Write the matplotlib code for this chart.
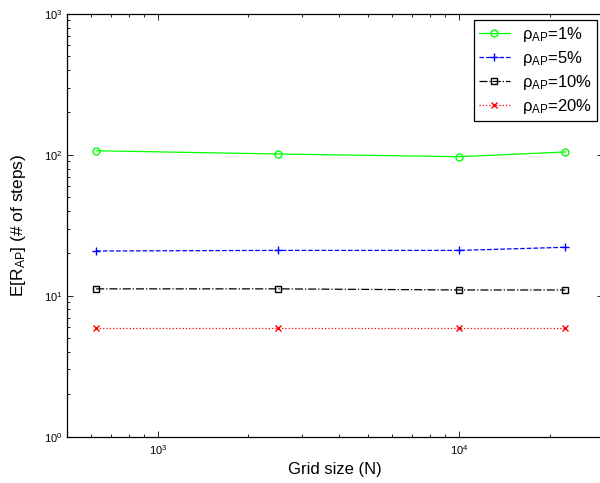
import matplotlib
matplotlib.use('Agg')
from matplotlib import pyplot as plt
from matplotlib.ticker import LogLocator, NullFormatter

plt.rcParams['font.family'] = ['Liberation Sans', 'DejaVu Sans']
plt.rcParams['mathtext.fontset'] = 'custom'
plt.rcParams['mathtext.rm'] = 'Liberation Sans'
plt.rcParams['mathtext.it'] = 'Liberation Sans:italic'

grid_size = [625, 2500, 10000, 22500]
rho_1 = [107, 101.5, 97.1, 104.9]
rho_5 = [20.8, 21.0, 21.0, 22.1]
rho_10 = [11.2, 11.2, 11.0, 11.0]
rho_20 = [5.9, 5.9, 5.9, 5.9]
labels = ['ρ$_{\\mathrm{AP}}$=1%', 'ρ$_{\\mathrm{AP}}$=5%',
          'ρ$_{\\mathrm{AP}}$=10%', 'ρ$_{\\mathrm{AP}}$=20%']

fig = plt.figure(figsize=(6, 4.83), dpi=100)
ax = fig.add_axes([67 / 600, 1 - 436.7 / 483, 536 / 600, 422.7 / 483])

ax.plot(grid_size, rho_1, '-', color=(0, 1, 0), marker='o', mfc='none',
        ms=5, lw=0.9, label=labels[0])
ax.plot(grid_size, rho_5, '--', color=(0, 0, 1), marker='+',
        ms=6, lw=0.9, label=labels[1])
ax.plot(grid_size, rho_10, '-.', color='black', marker='s', mfc='none',
        ms=5, lw=0.9, label=labels[2])
ax.plot(grid_size, rho_20, ':', color=(1, 0, 0), marker='x',
        ms=4.5, lw=0.9, label=labels[3])

ax.set_xscale('log')
ax.set_yscale('log')
ax.set_xlim(500, 30000)
ax.set_ylim(1, 1000)
ax.yaxis.set_minor_locator(LogLocator(base=10, subs=range(2, 10)))
ax.xaxis.set_minor_locator(LogLocator(base=10, subs=range(2, 10)))
ax.xaxis.set_minor_formatter(NullFormatter())
ax.yaxis.set_minor_formatter(NullFormatter())

ax.tick_params(which='both', direction='in', top=True, right=True,
               labelsize=8)
ax.tick_params(axis='x', pad=5)
ax.tick_params(axis='y', pad=3)
ax.tick_params(which='major', length=4, width=0.6)
ax.tick_params(which='minor', length=2.2, width=0.6)
for s in ax.spines.values():
    s.set_linewidth(0.9)

ax.set_xlabel('Grid size (N)', fontsize=12, labelpad=3)
ax.set_ylabel('E[R$_{\\mathrm{AP}}$] (# of steps)', fontsize=12.5, labelpad=12)

leg = ax.legend(loc='upper right', fontsize=12, numpoints=1,
                fancybox=False, framealpha=1, edgecolor='black',
                handlelength=1.9, handletextpad=0.7, borderpad=0.3,
                labelspacing=0.3, borderaxespad=0)
leg.set_bbox_to_anchor((597 / 600, 1 - 20 / 483), transform=fig.transFigure)
leg.get_frame().set_linewidth(0.9)

fig.savefig('out.png', dpi=100)
